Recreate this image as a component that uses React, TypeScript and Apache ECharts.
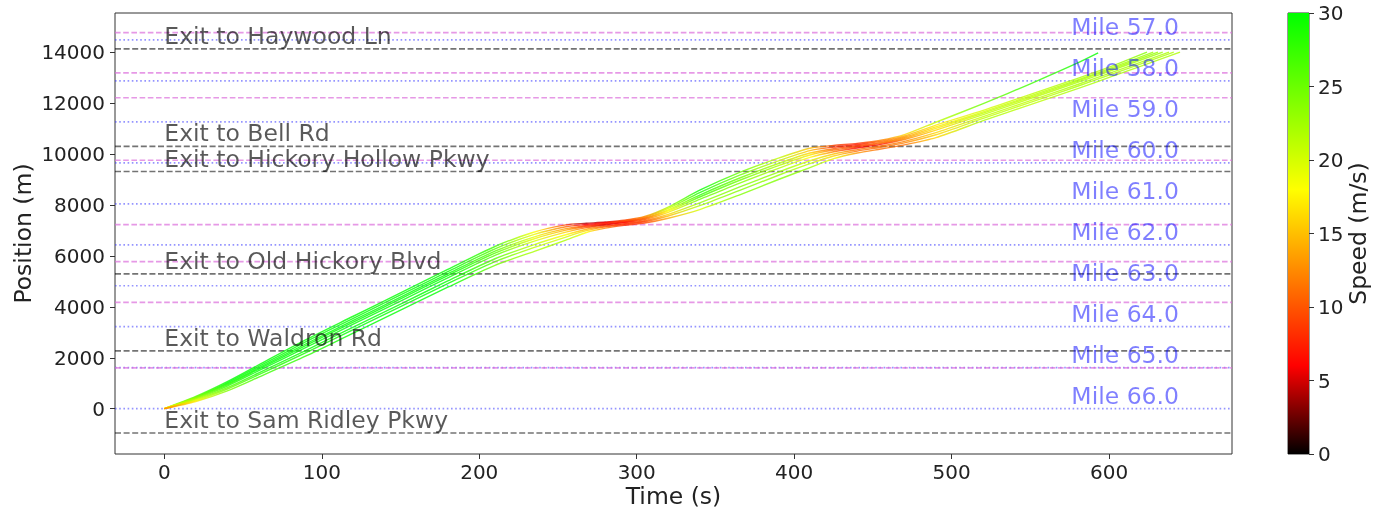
import React, { useEffect, useRef } from "react";
import * as echarts from "echarts";

// ---------- axes ----------
const X_TICKS = [0, 100, 200, 300, 400, 500, 600];
const Y_TICKS = [0, 2000, 4000, 6000, 8000, 10000, 12000, 14000];
const CB_TICKS = [0, 5, 10, 15, 20, 25, 30];

// ---------- reference lines ----------
const MILE_LABELS = ["Mile 66.0", "Mile 65.0", "Mile 64.0", "Mile 63.0", "Mile 62.0", "Mile 61.0", "Mile 60.0", "Mile 59.0", "Mile 58.0", "Mile 57.0"];
const MILE_POS = [0, 1609, 3219, 4828, 6437, 8047, 9656, 11265, 12875, 14484];
const MILE_LABEL_T = 576;

const EXIT_LABELS = ["Exit to Sam Ridley Pkwy", "Exit to Waldron Rd", "Exit to Old Hickory Blvd", "Exit to Hickory Hollow Pkwy", "Exit to Bell Rd", "Exit to Haywood Ln"];
const EXIT_POS = [-955, 2270, 5296, 9315, 10305, 14130];
const EXIT_LABEL_T = 0;

const RAMP_POS = [1605, 4172, 5777, 7225, 9757, 12211, 13190, 14767];

// ---------- trajectories (time s, position m, speed m/s) ----------
const TIME_GRID = [0, 20, 40, 60, 90, 120, 150, 180, 210, 235, 255, 268, 280, 292, 305, 320, 340, 365, 390, 410, 425, 440, 455, 470, 490, 520, 550, 580, 600];

const LEAD_T = [0, 20, 40, 60, 90, 120, 150, 180, 210, 235, 255, 268, 280, 292, 305, 320, 340, 365, 390, 410, 425, 440, 455, 470, 490, 520, 550, 580, 593];
const LEAD_POS = [0, 480, 1060, 1720, 2710, 3630, 4550, 5470, 6370, 6940, 7220, 7280, 7330, 7400, 7550, 7920, 8580, 9270, 9840, 10230, 10340, 10420, 10540, 10760, 11250, 11980, 12760, 13580, 13973];
const LEAD_SPEED = [22, 26, 31, 33, 32, 31, 31, 30, 27, 18, 9, 4, 5, 9, 13, 22, 30, 25, 21, 15, 9, 8, 12, 16, 21, 25, 27, 29, 30];

const FOLLOW_END_T = [624, 628, 631, 634, 638, 641, 645];

const F1_POS = [0, 455, 1015, 1660, 2630, 3548, 4465, 5383, 6278, 6845, 7145, 7235, 7300, 7375, 7518, 7865, 8485, 9160, 9735, 10135, 10275, 10373, 10498, 10710, 11135, 11713, 12343, 12973, 13413, 14000];
const F1_SPEED = [21, 25, 30, 32, 31, 30, 30, 30, 26, 19, 11, 6, 6, 9, 12, 20, 29, 25, 21, 15, 8, 7, 11, 14, 17, 20, 21, 22, 22, 24];

const F2_POS = [0, 430, 970, 1600, 2550, 3465, 4380, 5295, 6185, 6750, 7070, 7190, 7270, 7350, 7485, 7810, 8390, 9050, 9630, 10040, 10210, 10325, 10455, 10660, 11065, 11655, 12285, 12915, 13355, 14000];
const F2_SPEED = [20, 24, 29, 31, 31, 30, 30, 30, 26, 19, 13, 8, 7, 9, 11, 19, 28, 25, 22, 16, 10, 8, 11, 13, 17, 20, 21, 22, 22, 23];

const F3_POS = [0, 410, 934, 1552, 2486, 3399, 4312, 5225, 6111, 6674, 7010, 7154, 7246, 7330, 7459, 7766, 8314, 8962, 9546, 9964, 10158, 10287, 10421, 10620, 11009, 11609, 12239, 12869, 13309, 14000];
const F3_SPEED = [18, 23, 28, 31, 30, 30, 30, 30, 26, 19, 14, 9, 7, 8, 11, 18, 27, 25, 22, 17, 11, 9, 11, 13, 17, 21, 21, 22, 22, 23];

const F4_POS = [0, 385, 889, 1492, 2406, 3317, 4227, 5138, 6019, 6579, 6935, 7109, 7216, 7305, 7427, 7711, 8219, 8852, 9441, 9869, 10093, 10240, 10379, 10570, 10939, 11552, 12182, 12812, 13252, 14000];
const F4_SPEED = [17, 22, 28, 30, 30, 30, 30, 30, 26, 20, 16, 10, 5, 6, 10, 17, 25, 24, 22, 18, 12, 6, 7, 12, 16, 21, 21, 22, 22, 23];

const F5_POS = [0, 350, 826, 1408, 2294, 3201, 4108, 5015, 5889, 6446, 6830, 7046, 7174, 7270, 7381, 7634, 8086, 8698, 9294, 9736, 10002, 10173, 10319, 10500, 10841, 11471, 12101, 12731, 13171, 14000];
const F5_SPEED = [15, 21, 26, 29, 30, 30, 30, 30, 26, 21, 18, 14, 9, 8, 10, 16, 23, 24, 23, 20, 15, 11, 11, 12, 16, 21, 21, 22, 22, 22];

const F6_POS = [0, 320, 772, 1336, 2198, 3102, 4006, 4910, 5778, 6332, 6740, 6992, 7138, 7240, 7342, 7568, 7972, 8566, 9168, 9622, 9924, 10116, 10268, 10440, 10757, 11402, 12032, 12662, 13102, 14000];
const F6_SPEED = [14, 19, 25, 28, 29, 30, 30, 30, 26, 21, 20, 16, 10, 8, 9, 15, 22, 24, 23, 21, 16, 11, 11, 12, 16, 21, 21, 22, 22, 22];

const F7_POS = [0, 280, 700, 1240, 2070, 2970, 3870, 4770, 5630, 6180, 6620, 6920, 7090, 7200, 7290, 7480, 7820, 8390, 9000, 9470, 9820, 10040, 10200, 10360, 10645, 11310, 11940, 12570, 13010, 14000];
const F7_SPEED = [12, 17, 24, 27, 28, 30, 30, 30, 25, 22, 22, 18, 12, 8, 9, 14, 20, 24, 24, 23, 19, 13, 11, 11, 16, 22, 21, 22, 22, 22];

const FOLLOWERS = [
  [F1_POS, F1_SPEED], [F2_POS, F2_SPEED], [F3_POS, F3_SPEED], [F4_POS, F4_SPEED],
  [F5_POS, F5_SPEED], [F6_POS, F6_SPEED], [F7_POS, F7_SPEED],
];

const VEHICLES = [
  { t: LEAD_T, p: LEAD_POS, v: LEAD_SPEED },
  ...FOLLOWERS.map(([p, v], i) => ({ t: [...TIME_GRID, FOLLOW_END_T[i]], p, v })),
];

// colormap: black -> red -> yellow -> green over 0..30 m/s
const CMAP: [number, number[]][] = [
  [0, [0, 0, 0]],
  [0.2, [255, 0, 0]],
  [0.6, [255, 255, 0]],
  [1, [0, 255, 0]],
];
function speedColor(v: number) {
  const x = Math.max(0, Math.min(1, v / 30));
  for (let i = 1; i < CMAP.length; i++) {
    const [x1, c1] = CMAP[i];
    const [x0, c0] = CMAP[i - 1];
    if (x <= x1) {
      const f = (x - x0) / (x1 - x0);
      const c = c0.map((a, k) => Math.round(a + (c1[k] - a) * f));
      return `rgb(${c[0]},${c[1]},${c[2]})`;
    }
  }
  return "rgb(0,255,0)";
}

const FONT = "DejaVu Sans";

export default function App() {
  const ref = useRef<HTMLDivElement>(null);
  useEffect(() => {
    if (!ref.current) return;
    const chart = echarts.init(ref.current, null, { renderer: "svg" });

    const hLineSeries = (vals: number[], stroke: string, dash: number[], width: number) => ({
      type: "custom",
      xAxisIndex: 0,
      yAxisIndex: 0,
      silent: true,
      z: 1,
      data: vals.map((v) => [0, v]),
      encode: { x: 0, y: 1 },
      renderItem: (params: any, api: any) => {
        const cs = params.coordSys;
        const y = api.coord([0, api.value(1)])[1];
        return {
          type: "line",
          shape: { x1: cs.x, y1: y, x2: cs.x + cs.width, y2: y },
          style: { stroke, lineWidth: width, lineDash: dash, fill: null },
        };
      },
    });

    const textSeries = (t: number, vals: number[], labels: string[], fill: string) => ({
      type: "custom",
      xAxisIndex: 0,
      yAxisIndex: 0,
      silent: true,
      z: 5,
      data: vals.map((v) => [t, v]),
      encode: { x: 0, y: 1 },
      renderItem: (params: any, api: any) => {
        const pt = api.coord([api.value(0), api.value(1)]);
        return {
          type: "text",
          x: pt[0],
          y: pt[1] - 1,
          style: {
            text: labels[params.dataIndex],
            fontSize: 23.5,
            fontFamily: FONT,
            fill,
            align: "left",
            verticalAlign: "bottom",
          },
        };
      },
    });

    const trajSeries = VEHICLES.map((veh) => ({
      type: "custom",
      xAxisIndex: 0,
      yAxisIndex: 0,
      silent: true,
      z: 3,
      data: veh.t.map((t, i) => [t, veh.p[i]]),
      encode: { x: 0, y: 1 },
      renderItem: (params: any, api: any) => {
        if (params.dataIndex !== 0) return null;
        const pts = veh.t.map((t, i) => api.coord([t, veh.p[i]]));
        const x0 = pts[0][0];
        const x1 = pts[pts.length - 1][0];
        const stops = pts.map((pt: number[], i: number) => ({
          offset: Math.max(0, Math.min(1, (pt[0] - x0) / (x1 - x0))),
          color: speedColor(veh.v[i]),
        }));
        return {
          type: "polyline",
          shape: { points: pts, smooth: 0.25 },
          style: {
            fill: null,
            stroke: new echarts.graphic.LinearGradient(x0, 0, x1, 0, stops, true),
            lineWidth: 1.4,
            opacity: 0.8,
          },
        };
      },
    }));

    const tickLabel = { fontSize: 20, color: "#222", fontFamily: FONT };
    const plain = (v: number) => String(v);

    chart.setOption({
      animation: false,
      textStyle: { fontFamily: FONT },
      grid: [
        { left: 115, top: 13, width: 1117, height: 441, show: true, borderColor: "#333", borderWidth: 1, backgroundColor: "transparent", outerBoundsMode: "none", containLabel: false },
        { left: 1288, top: 13, width: 21, height: 441, show: true, borderColor: "#333", borderWidth: 1, backgroundColor: "transparent", outerBoundsMode: "none", containLabel: false },
      ],
      xAxis: [
        {
          type: "value",
          gridIndex: 0,
          min: -31.3,
          max: 678,
          axisLine: { show: false, onZero: false },
          splitLine: { show: false },
          axisTick: { show: true, length: 5, lineStyle: { color: "#333" }, customValues: X_TICKS },
          axisLabel: { ...tickLabel, margin: 8, lineHeight: 20, customValues: X_TICKS, formatter: plain },
          name: "Time (s)",
          nameLocation: "middle",
          nameGap: 31,
          nameMoveOverlap: false,
          nameTextStyle: { fontSize: 23.5, lineHeight: 22, color: "#222", fontFamily: FONT },
        },
        { type: "category", gridIndex: 1, data: [""], show: false },
      ],
      yAxis: [
        {
          type: "value",
          gridIndex: 0,
          min: -1780,
          max: 15540,
          axisLine: { show: false, onZero: false },
          splitLine: { show: false },
          axisTick: { show: true, length: 5, lineStyle: { color: "#333" }, customValues: Y_TICKS },
          axisLabel: { ...tickLabel, margin: 10, customValues: Y_TICKS, formatter: plain },
          name: "Position (m)",
          nameLocation: "middle",
          nameGap: 80,
          nameMoveOverlap: false,
          nameTextStyle: { fontSize: 23.5, color: "#222", fontFamily: FONT },
        },
        {
          type: "value",
          gridIndex: 1,
          position: "right",
          min: 0,
          max: 30,
          interval: 5,
          axisLine: { show: false, onZero: false },
          splitLine: { show: false },
          axisTick: { show: true, length: 5, lineStyle: { color: "#333" }, customValues: CB_TICKS },
          axisLabel: { ...tickLabel, margin: 9, customValues: CB_TICKS, formatter: plain },
          name: "Speed (m/s)",
          nameLocation: "middle",
          nameRotate: 90,
          nameGap: 37,
          nameMoveOverlap: false,
          nameTextStyle: { fontSize: 23.5, color: "#222", fontFamily: FONT },
        },
      ],
      series: [
        hLineSeries(MILE_POS, "rgba(60,60,255,0.55)", [1.6, 2.6], 1.7),
        hLineSeries(RAMP_POS, "rgba(220,110,220,0.7)", [5.6, 2.6], 1.7),
        hLineSeries(EXIT_POS, "rgba(0,0,0,0.55)", [6, 2.6], 1.7),
        ...trajSeries,
        textSeries(EXIT_LABEL_T, EXIT_POS, EXIT_LABELS, "rgba(0,0,0,0.65)"),
        textSeries(MILE_LABEL_T, MILE_POS, MILE_LABELS, "rgba(0,0,255,0.5)"),
        {
          type: "bar",
          xAxisIndex: 1,
          yAxisIndex: 1,
          silent: true,
          barWidth: "100%",
          data: [30],
          itemStyle: {
            color: new echarts.graphic.LinearGradient(0, 1, 0, 0, CMAP.map(([o, c]) => ({ offset: o, color: `rgb(${c[0]},${c[1]},${c[2]})` }))),
          },
        },
      ],
    });
    return () => chart.dispose();
  }, []);
  return <div ref={ref} style={{ position: "fixed", left: 0, top: 0, width: 1382, height: 508 }} />;
}
